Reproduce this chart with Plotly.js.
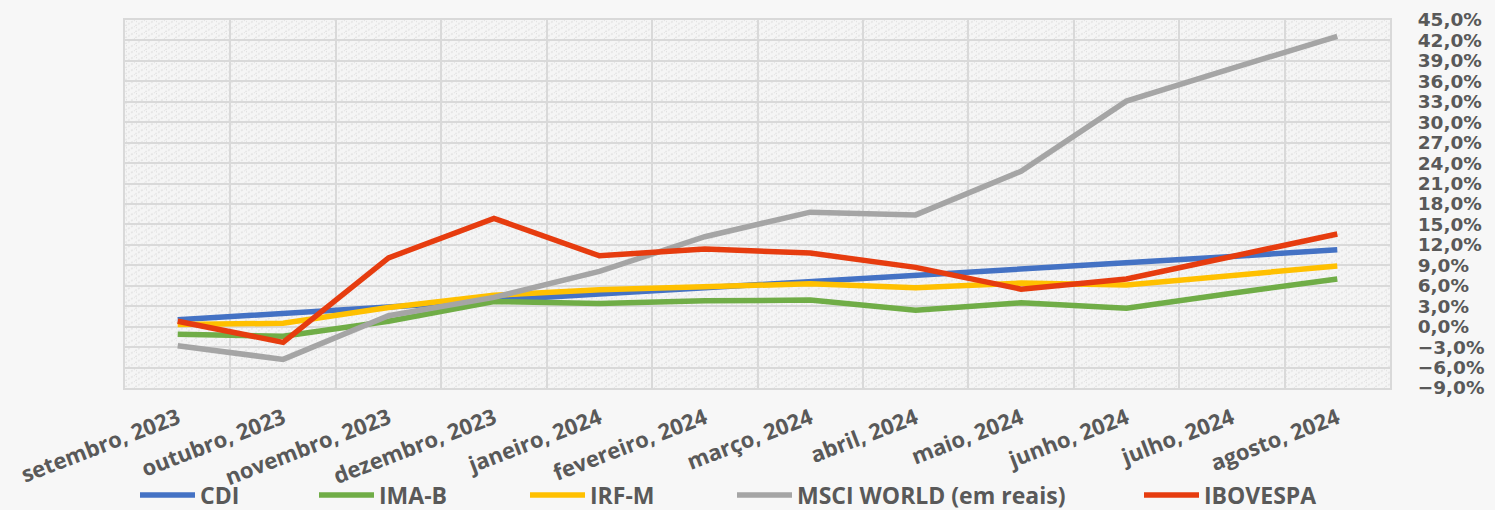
<!DOCTYPE html>
<html>
<head>
<meta charset="utf-8">
<script src="https://cdn.plot.ly/plotly-3.0.1.min.js"></script>
<style>
  html, body { margin: 0; padding: 0; background: #f7f7f7; }
  #chart { width: 1495px; height: 510px; }
</style>
</head>
<body>
<div id="chart"></div>
<script>
const months = ['setembro, 2023','outubro, 2023','novembro, 2023','dezembro, 2023','janeiro, 2024','fevereiro, 2024','março, 2024','abril, 2024','maio, 2024','junho, 2024','julho, 2024','agosto, 2024'];
const cdi  = [1.0, 1.9, 2.9, 3.8, 4.8, 5.7, 6.6, 7.5, 8.4, 9.3, 10.3, 11.3];
const imab = [-1.1, -1.4, 0.8, 3.7, 3.4, 3.8, 3.9, 2.4, 3.5, 2.7, 4.9, 7.0];
const irfm = [0.3, 0.5, 2.8, 4.6, 5.4, 5.8, 6.3, 5.7, 6.4, 6.1, 7.6, 8.9];
const msci = [-2.8, -4.8, 1.6, 4.3, 8.1, 13.2, 16.8, 16.4, 22.8, 33.1, 37.9, 42.6];
const ibov = [0.8, -2.3, 10.1, 15.9, 10.4, 11.4, 10.8, 8.7, 5.5, 7.0, 10.3, 13.6];
const seriesNames = ['CDI', 'IMA-B', 'IRF-M', 'MSCI WORLD (em reais)', 'IBOVESPA'];

const seriesData = [cdi, imab, irfm, msci, ibov];
const colors = ['#4472C4', '#70AD47', '#FFC000', '#A5A5A5', '#E63C0F'];
const legendIds = ['legend', 'legend2', 'legend3', 'legend4', 'legend5'];
const legendLeftPx = [143, 322, 533, 740, 1147];

const traces = seriesData.map((vals, i) => ({
  type: 'scatter',
  mode: 'lines',
  x: months,
  y: vals,
  name: seriesNames[i],
  legend: legendIds[i],
  line: { color: colors[i], width: 5.5 },
  hoverinfo: 'skip'
}));

// subtle hatch texture for the plot area background (decoration only)
const hatchSvg =
  '<svg xmlns="http://www.w3.org/2000/svg" width="1265" height="367">' +
  '<defs><pattern id="p" width="10" height="6" patternUnits="userSpaceOnUse">' +
  '<rect width="10" height="6" fill="#f5f5f5"/>' +
  '<path d="M0,6 L10,0" stroke="#e4e4e4" stroke-width="1.6" stroke-dasharray="2,1.5"/>' +
  '<rect x="1" y="1" width="1" height="1" fill="#dcdcdc"/>' +
  '</pattern></defs>' +
  '<rect width="1265" height="367" fill="url(#p)"/></svg>';
const hatchUri = 'data:image/svg+xml;charset=utf-8,' + encodeURIComponent(hatchSvg);

const legendFont = { family: 'Open Sans, sans-serif', size: 23, color: '#595959', weight: 'bold' };
const layout = {
  width: 1495,
  height: 510,
  paper_bgcolor: '#f7f7f7',
  plot_bgcolor: '#f0f0f0',
  separators: ',.',
  margin: { l: 125, r: 105, t: 20, b: 122 },
  images: [{
    source: hatchUri,
    xref: 'paper', yref: 'paper',
    x: 0, y: 1, sizex: 1, sizey: 1,
    xanchor: 'left', yanchor: 'top',
    sizing: 'stretch',
    layer: 'below'
  }],
  xaxis: {
    type: 'category',
    range: [-0.5, 11.5],
    tickson: 'boundaries',
    showgrid: true,
    gridcolor: '#d9d9d9',
    gridwidth: 2,
    showline: true,
    mirror: true,
    linecolor: '#d9d9d9',
    linewidth: 2,
    ticks: '',
    tickangle: -21,
    ticklabelstandoff: 7,
    tickfont: { family: 'Open Sans, sans-serif', size: 22, color: '#595959', weight: 'bold' },
    fixedrange: true
  },
  yaxis: {
    side: 'right',
    range: [-9, 45],
    dtick: 3,
    tick0: 0,
    tickformat: '.1f',
    ticksuffix: '%',
    showgrid: true,
    gridcolor: '#d9d9d9',
    gridwidth: 2,
    zeroline: false,
    showline: true,
    mirror: true,
    linecolor: '#d9d9d9',
    linewidth: 2,
    ticks: '',
    ticklabelstandoff: 22,
    tickfont: { family: 'DejaVu Sans, sans-serif', size: 18.5, color: '#595959', weight: 'bold' },
    fixedrange: true
  },
  showlegend: true
};

legendIds.forEach((id, i) => {
  layout[id] = {
    orientation: 'h',
    xref: 'container',
    yref: 'container',
    x: (legendLeftPx[i] - 8) / 1495,
    y: 1 - 495 / 510,
    xanchor: 'left',
    yanchor: 'middle',
    bgcolor: 'rgba(0,0,0,0)',
    itemwidth: 55,
    font: legendFont
  };
});

Plotly.newPlot('chart', traces, layout, { displayModeBar: false, staticPlot: true });
</script>
</body>
</html>
